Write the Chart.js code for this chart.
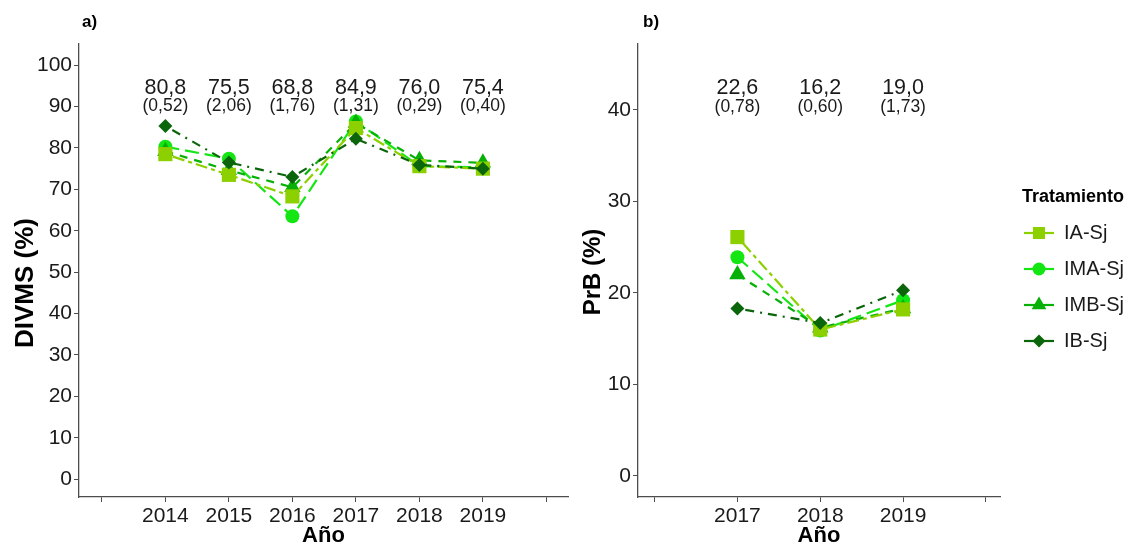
<!DOCTYPE html>
<html>
<head>
<meta charset="utf-8">
<script src="https://cdn.jsdelivr.net/npm/chart.js@4.4.1/dist/chart.umd.min.js"></script>
<style>
  html, body { margin: 0; padding: 0; background: #ffffff; }
  #wrap { position: relative; width: 1132px; height: 547px; overflow: hidden; }
  canvas { position: absolute; top: 0; }
</style>
</head>
<body>
<div id="wrap">
  <canvas id="divms" width="580" height="547" style="left:0px"></canvas>
  <canvas id="prb" width="562" height="547" style="left:570px"></canvas>
</div>
<script>
// ---- data ----
const treatments = ['IA-Sj', 'IMA-Sj', 'IMB-Sj', 'IB-Sj'];

// a) DIVMS (%)
const yearsA = [2014, 2015, 2016, 2017, 2018, 2019];
const divmsIA  = [78.5, 73.5, 68.3, 84.8, 75.6, 75.0];
const divmsIMA = [80.3, 77.4, 63.5, 86.4, 75.6, 75.3];
const divmsIMB = [79.2, 74.6, 70.5, 86.0, 77.0, 76.4];
const divmsIB  = [85.3, 76.5, 73.0, 82.2, 75.9, 75.0];
const meanA = ['80,8', '75,5', '68,8', '84,9', '76,0', '75,4'];
const seA   = ['(0,52)', '(2,06)', '(1,76)', '(1,31)', '(0,29)', '(0,40)'];
const xTicksA = [2013, 2014, 2015, 2016, 2017, 2018, 2019, 2020];
const xLabelsA = ['', '2014', '2015', '2016', '2017', '2018', '2019', ''];
const yTicksA = [0, 10, 20, 30, 40, 50, 60, 70, 80, 90, 100];

// b) PrB (%)
const yearsB = [2017, 2018, 2019];
const prbIA  = [26.1, 16.0, 18.2];
const prbIMA = [23.9, 15.9, 19.2];
const prbIMB = [22.0, 16.2, 18.3];
const prbIB  = [18.3, 16.7, 20.3];
const meanB = ['22,6', '16,2', '19,0'];
const seB   = ['(0,78)', '(0,60)', '(1,73)'];
const xTicksB = [2016, 2017, 2018, 2019, 2020];
const xLabelsB = ['', '2017', '2018', '2019', ''];
const yTicksB = [0, 10, 20, 30, 40];

// ---- styling ----
const FONT = "'Liberation Sans', Arial, Helvetica, sans-serif";
const TEXT = '#1a1a1a';
const AXIS = '#4d4d4d';
const colors = ['#8cd000', '#14e614', '#06b006', '#0b660b'];
const dashes = [[4, 4, 12, 4], [14, 6], [8, 7], [2, 6, 9, 6]];
const shapes = ['rect', 'circle', 'triangle', 'rectRot'];
const radii = [10, 7, 9.5, 7];
const drawOrder = [1, 3, 2, 0];

function makeDatasets(years, series) {
  return series.map((vals, i) => ({
    label: treatments[i],
    data: years.map((y, k) => ({ x: y, y: vals[k] })),
    borderColor: colors[i],
    backgroundColor: colors[i],
    borderWidth: 2.2,
    borderDash: dashes[i],
    pointStyle: shapes[i],
    pointRadius: radii[i],
    pointBorderWidth: 0,
    pointBackgroundColor: colors[i],
    pointBorderColor: colors[i],
    tension: 0,
    order: drawOrder[i],
    clip: false
  }));
}

// mean and standard error written above each year
function summaryLabels(years, means, ses, meanY, seY) {
  return {
    id: 'summaryLabels',
    afterDatasetsDraw(chart) {
      const { ctx, scales } = chart;
      ctx.save();
      ctx.fillStyle = TEXT;
      ctx.textAlign = 'center';
      ctx.textBaseline = 'middle';
      years.forEach((yr, i) => {
        const x = scales.x.getPixelForValue(yr);
        ctx.font = '21.5px ' + FONT;
        ctx.fillText(means[i], x, scales.y.getPixelForValue(meanY));
        ctx.font = '17.5px ' + FONT;
        ctx.fillText(ses[i], x, scales.y.getPixelForValue(seY));
      });
      ctx.restore();
    }
  };
}

// panel tag and rotated y-axis title
function panelText(tag, tagX, title, titleX, titleY, titleSize) {
  return {
    id: 'panelText',
    afterDraw(chart) {
      const ctx = chart.ctx;
      ctx.save();
      ctx.fillStyle = '#000';
      ctx.font = 'bold 17px ' + FONT;
      ctx.textAlign = 'left';
      ctx.textBaseline = 'middle';
      ctx.fillText(tag, tagX, 22);
      ctx.translate(titleX, titleY);
      ctx.rotate(-Math.PI / 2);
      ctx.textAlign = 'center';
      ctx.font = 'bold ' + titleSize + 'px ' + FONT;
      ctx.fillText(title, 0, 0);
      ctx.restore();
    }
  };
}

// legend with line + marker keys, drawn at the right side
const treatmentLegend = {
  id: 'treatmentLegend',
  afterDraw(chart) {
    const ctx = chart.ctx;
    const x0 = 454, titleY = 197, firstY = 233, step = 36;
    ctx.save();
    ctx.fillStyle = '#000';
    ctx.font = 'bold 18px ' + FONT;
    ctx.textAlign = 'left';
    ctx.textBaseline = 'middle';
    ctx.fillText('Tratamiento', x0 - 2, titleY);
    const legendRadii = [8.5, 6.5, 8.5, 6.5];
    chart.data.datasets.forEach((ds, i) => {
      const y = firstY + i * step;
      ctx.strokeStyle = ds.borderColor;
      ctx.lineWidth = 2.2;
      ctx.setLineDash([]);
      ctx.beginPath();
      ctx.moveTo(x0, y);
      ctx.lineTo(x0 + 30, y);
      ctx.stroke();
      ctx.fillStyle = ds.backgroundColor;
      Chart.helpers.drawPoint(ctx, {
        pointStyle: ds.pointStyle, radius: legendRadii[i], rotation: 0, borderWidth: 0
      }, x0 + 15, y);
      ctx.fillStyle = TEXT;
      ctx.font = '20px ' + FONT;
      ctx.fillText(ds.label, x0 + 40, y);
    });
    ctx.restore();
  }
};

function axisOptions(o) {
  return {
    x: {
      type: 'linear',
      min: o.xMin, max: o.xMax,
      afterBuildTicks(axis) { axis.ticks = o.xTicks.map(v => ({ value: v })); },
      afterFit(axis) { axis.height = 50; },
      ticks: {
        autoSkip: false, maxRotation: 0, padding: 2,
        color: TEXT, font: { family: FONT, size: 21 },
        callback: (v) => o.xLabels[o.xTicks.indexOf(v)]
      },
      grid: { display: true, drawOnChartArea: false, drawTicks: true, tickLength: 5, color: AXIS, lineWidth: 1 },
      border: { display: true, color: AXIS, width: 1.3 },
      title: { display: true, text: 'Año', color: '#000', font: { family: FONT, size: 22, weight: 'bold', lineHeight: 1.0 }, padding: { top: 0, bottom: 0 } }
    },
    y: {
      type: 'linear',
      min: o.yMin, max: o.yMax,
      afterBuildTicks(axis) { axis.ticks = o.yTicks.map(v => ({ value: v })); },
      afterFit(axis) { axis.width = o.yWidth; },
      ticks: { padding: 2, color: TEXT, font: { family: FONT, size: 21 } },
      grid: { display: true, drawOnChartArea: false, drawTicks: true, tickLength: 5, color: AXIS, lineWidth: 1 },
      border: { display: true, color: AXIS, width: 1.3 }
    }
  };
}

const common = {
  responsive: false,
  animation: false,
  devicePixelRatio: 1,
  plugins: { legend: { display: false }, tooltip: { enabled: false } }
};

new Chart(document.getElementById('divms'), {
  type: 'line',
  data: { datasets: makeDatasets(yearsA, [divmsIA, divmsIMA, divmsIMB, divmsIB]) },
  options: Object.assign({}, common, {
    layout: { padding: { top: 44, right: 12, bottom: 0, left: 0 } },
    scales: axisOptions({
      xMin: 2012.64, xMax: 2020.34, xTicks: xTicksA, xLabels: xLabelsA,
      yMin: -4.3, yMax: 105.1, yTicks: yTicksA, yWidth: 79
    })
  }),
  plugins: [summaryLabels(yearsA, meanA, seA, 94.5, 90), panelText('a)', 82, 'DIVMS (%)', 26, 283, 26)]
});

new Chart(document.getElementById('prb'), {
  type: 'line',
  data: { datasets: makeDatasets(yearsB, [prbIA, prbIMA, prbIMB, prbIB]) },
  options: Object.assign({}, common, {
    layout: { padding: { top: 44, right: 132, bottom: 0, left: 0 } },
    scales: axisOptions({
      xMin: 2015.8, xMax: 2020.17, xTicks: xTicksB, xLabels: xLabelsB,
      yMin: -2.3, yMax: 47.2, yTicks: yTicksB, yWidth: 68
    })
  }),
  plugins: [summaryLabels(yearsB, meanB, seB, 42.4, 40.3), panelText('b)', 73, 'PrB (%)', 23, 272, 24), treatmentLegend]
});
</script>
</body>
</html>
